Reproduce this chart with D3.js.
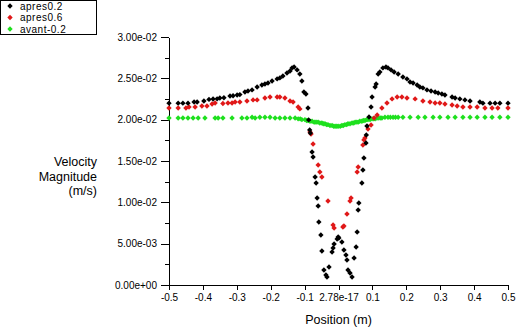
<!DOCTYPE html>
<html><head><meta charset="utf-8">
<script src="https://cdn.jsdelivr.net/npm/d3@7"></script>
<style>
html,body{margin:0;padding:0;background:#fff;}
svg{display:block;}
text{font-family:"Liberation Sans",Arial,Helvetica,sans-serif;fill:#000;}
</style></head>
<body>
<svg id="chart" width="522" height="332"></svg>
<script>
// ---- data ----
const seriesNames = ["apres0.2", "apres0.6", "avant-0.2"];
const seriesColors = ["#000000", "#e01818", "#1ee01e"];

const apres02X = [-0.5,-0.473,-0.459,-0.444,-0.426,-0.417,-0.397,-0.382,-0.370,-0.358,-0.350,-0.338,-0.320,-0.311,-0.299,-0.291,-0.276,-0.267,-0.255,-0.240,-0.226,-0.217,-0.208,-0.196,-0.181,-0.173,-0.164,-0.152,-0.143,-0.137,-0.131,-0.122,-0.114,-0.108,-0.102,-0.096,-0.090,-0.088,-0.085,-0.083,-0.078,-0.075,-0.069,-0.066,-0.063,-0.060,-0.058,-0.052,-0.049,-0.043,-0.037,-0.034,-0.028,-0.019,-0.016,-0.013,-0.004,-0.001,0.001,0.010,0.016,0.022,0.025,0.028,0.034,0.040,0.046,0.052,0.055,0.058,0.060,0.069,0.072,0.075,0.081,0.082,0.084,0.090,0.096,0.099,0.108,0.111,0.117,0.122,0.131,0.140,0.146,0.155,0.164,0.176,0.190,0.202,0.211,0.220,0.232,0.240,0.249,0.261,0.273,0.285,0.294,0.305,0.314,0.335,0.344,0.358,0.373,0.388,0.417,0.426,0.447,0.462,0.476,0.500];
const apres02Y = [0.0220,0.0220,0.0220,0.0220,0.02214,0.02214,0.02226,0.02245,0.02250,0.02252,0.02263,0.02265,0.02287,0.02290,0.02299,0.02303,0.02335,0.02347,0.02360,0.02396,0.02420,0.02432,0.02444,0.02468,0.02493,0.02505,0.02529,0.02565,0.02589,0.02626,0.02638,0.02602,0.02553,0.02468,0.02335,0.02311,0.02142,0.01997,0.01876,0.01839,0.01609,0.01549,0.01307,0.01234,0.01053,0.00956,0.00762,0.00605,0.00411,0.00182,0.00121,0.00097,0.00218,0.00399,0.00448,0.00496,0.00557,0.00581,0.00569,0.00520,0.00424,0.00363,0.00303,0.00182,0.00145,0.00097,0.00327,0.00460,0.00641,0.00908,0.00992,0.01234,0.01391,0.01537,0.01718,0.01815,0.01924,0.02033,0.02154,0.02275,0.02396,0.02432,0.02553,0.02577,0.02626,0.02638,0.02626,0.02602,0.02577,0.02553,0.02517,0.02493,0.02456,0.02444,0.02420,0.02396,0.02384,0.02360,0.02347,0.02335,0.02323,0.02311,0.02299,0.02275,0.02263,0.02251,0.02239,0.02226,0.02214,0.0220,0.0220,0.0220,0.0220,0.0220];

const apres06X = [-0.5,-0.473,-0.450,-0.441,-0.423,-0.403,-0.388,-0.373,-0.364,-0.341,-0.326,-0.314,-0.305,-0.291,-0.270,-0.252,-0.240,-0.217,-0.202,-0.181,-0.173,-0.158,-0.143,-0.134,-0.119,-0.114,-0.084,-0.081,-0.075,-0.060,-0.055,-0.049,-0.031,-0.016,-0.013,0.013,0.016,0.025,0.034,0.037,0.055,0.058,0.072,0.075,0.078,0.087,0.096,0.105,0.114,0.128,0.143,0.158,0.173,0.187,0.202,0.226,0.249,0.270,0.285,0.299,0.314,0.335,0.350,0.367,0.388,0.409,0.432,0.453,0.470,0.500];
const apres06Y = [0.02141,0.02141,0.02141,0.02153,0.02153,0.02165,0.02165,0.02190,0.02202,0.02196,0.02202,0.02202,0.02214,0.02214,0.02226,0.02239,0.02239,0.02263,0.02275,0.02275,0.02275,0.02263,0.02226,0.02214,0.02153,0.02130,0.01851,0.01827,0.01706,0.01452,0.01367,0.01307,0.01016,0.00726,0.00690,0.00702,0.00714,0.00859,0.01016,0.01053,0.01367,0.01428,0.01694,0.01755,0.01779,0.01888,0.01936,0.02021,0.02057,0.02141,0.02202,0.02251,0.02275,0.02275,0.02263,0.02251,0.02226,0.02214,0.02202,0.02202,0.02190,0.02178,0.02165,0.02153,0.02153,0.02153,0.02141,0.02141,0.02141,0.02141];

const avantX = [-0.5,-0.473,-0.459,-0.444,-0.429,-0.414,-0.394,-0.364,-0.355,-0.341,-0.314,-0.285,-0.270,-0.255,-0.246,-0.232,-0.217,-0.202,-0.187,-0.173,-0.158,-0.143,-0.128,-0.119,-0.113,-0.108,-0.099,-0.094,-0.090,-0.084,-0.078,-0.072,-0.069,-0.064,-0.060,-0.055,-0.049,-0.045,-0.040,-0.035,-0.031,-0.025,-0.019,-0.014,-0.010,-0.005,-0.001,0.005,0.010,0.014,0.019,0.024,0.028,0.034,0.040,0.045,0.049,0.054,0.058,0.063,0.069,0.073,0.078,0.083,0.087,0.093,0.099,0.104,0.108,0.113,0.117,0.123,0.128,0.137,0.146,0.153,0.161,0.168,0.176,0.190,0.211,0.235,0.255,0.279,0.299,0.323,0.344,0.367,0.388,0.409,0.432,0.453,0.476,0.500];
const avantY = [0.0202,0.0202,0.0202,0.0202,0.0202,0.0202,0.0202,0.0202,0.0202,0.0202,0.0202,0.0202,0.0202,0.0203,0.0202,0.0203,0.0203,0.0203,0.0202,0.0202,0.0202,0.0202,0.0202,0.0201,0.0201,0.0200,0.0200,0.0199,0.0199,0.0198,0.0198,0.0197,0.0197,0.0197,0.0197,0.0196,0.0196,0.0195,0.0195,0.0194,0.0194,0.0193,0.0193,0.0192,0.0192,0.0192,0.0192,0.0192,0.0193,0.0193,0.0194,0.0194,0.0195,0.0195,0.0196,0.0196,0.0197,0.0197,0.0197,0.0198,0.0198,0.0199,0.0199,0.0200,0.0200,0.0200,0.0201,0.0201,0.0201,0.0202,0.0202,0.0202,0.0202,0.0203,0.0203,0.0203,0.0203,0.0203,0.0203,0.0203,0.0203,0.0203,0.0203,0.0203,0.0203,0.0203,0.0203,0.0203,0.0203,0.0203,0.0203,0.0203,0.0203,0.0203];

const xTickValues = [-0.5,-0.4,-0.3,-0.2,-0.1,0,0.1,0.2,0.3,0.4,0.5];
const xTickLabels = ["-0.5","-0.4","-0.3","-0.2","-0.1","2.78e-17","0.1","0.2","0.3","0.4","0.5"];
const yTickValues = [0,0.005,0.01,0.015,0.02,0.025,0.03];
const yTickLabels = ["0.00e+00","5.00e-03","1.00e-02","1.50e-02","2.00e-02","2.50e-02","3.00e-02"];
const yMinorValues = [0.0025,0.0075,0.0125,0.0175,0.0225,0.0275];

const xTitle = "Position (m)";
const yTitleLines = ["Velocity","Magnitude","(m/s)"];

// ---- drawing ----
const svg = d3.select("#chart");
const L = 169, R = 508, T = 37, B = 285;
const x = d3.scaleLinear().domain([-0.5, 0.5]).range([L, R]);
const y = d3.scaleLinear().domain([0, 0.03]).range([B, T]);

// y axis
const yAxis = d3.axisLeft(y).tickValues(yTickValues)
  .tickFormat((d, i) => yTickLabels[i]).tickSizeInner(8).tickSizeOuter(0).tickPadding(4);
const gy = svg.append("g").attr("transform", `translate(${L},0)`).call(yAxis);
gy.selectAll("text").attr("font-family", '"Liberation Sans",Arial,sans-serif').attr("font-size", 10);
const yMinor = d3.axisLeft(y).tickValues(yMinorValues).tickFormat("").tickSizeInner(4).tickSizeOuter(0);
svg.append("g").attr("transform", `translate(${L},0)`).call(yMinor).select(".domain").remove();

// x axis
const xAxis = d3.axisBottom(x).tickValues(xTickValues)
  .tickFormat((d, i) => xTickLabels[i]).tickSizeInner(5).tickSizeOuter(0).tickPadding(4);
const gx = svg.append("g").attr("transform", `translate(0,${B})`).call(xAxis);
gx.selectAll("text").attr("font-family", '"Liberation Sans",Arial,sans-serif').attr("font-size", 10);

svg.selectAll(".domain, .tick line").attr("stroke", "#000").attr("stroke-width", 1).attr("shape-rendering", "crispEdges");

// titles
svg.append("text").attr("x", (L + R) / 2).attr("y", 324).attr("text-anchor", "middle")
  .attr("font-size", 12.5).text(xTitle);
svg.append("g").selectAll("text").data(yTitleLines).join("text")
  .attr("x", 97).attr("y", (d, i) => 166 + i * 14.5).attr("text-anchor", "end")
  .attr("font-size", 12.5).text(d => d);

// markers
const diamond = "M0,-2.7L2.7,0L0,2.7L-2.7,0Z";
const series = [
  {xs: apres02X, ys: apres02Y},
  {xs: apres06X, ys: apres06Y},
  {xs: avantX, ys: avantY}
];
// draw green first, then red, then black
[2, 1, 0].forEach(si => {
  const s = series[si];
  const pts = s.xs.map((v, i) => [v, s.ys[i]]);
  svg.append("g").selectAll("path").data(pts).join("path")
    .attr("d", diamond)
    .attr("transform", d => `translate(${x(d[0])},${y(d[1])})`)
    .attr("fill", seriesColors[si]);
});

// legend
const lg = svg.append("g");
lg.append("rect").attr("x", 0.5).attr("y", 0.5).attr("width", 96).attr("height", 34)
  .attr("fill", "#fff").attr("stroke", "#000").attr("stroke-width", 1);
seriesNames.forEach((n, i) => {
  lg.append("path").attr("d", diamond).attr("transform", `translate(10,${6 + i * 11.5})`)
    .attr("fill", seriesColors[i]);
  lg.append("text").attr("x", 20).attr("y", 9.5 + i * 11.5).attr("font-size", 10)
    .attr("letter-spacing", 0.5).text(n);
});
</script>
</body></html>
